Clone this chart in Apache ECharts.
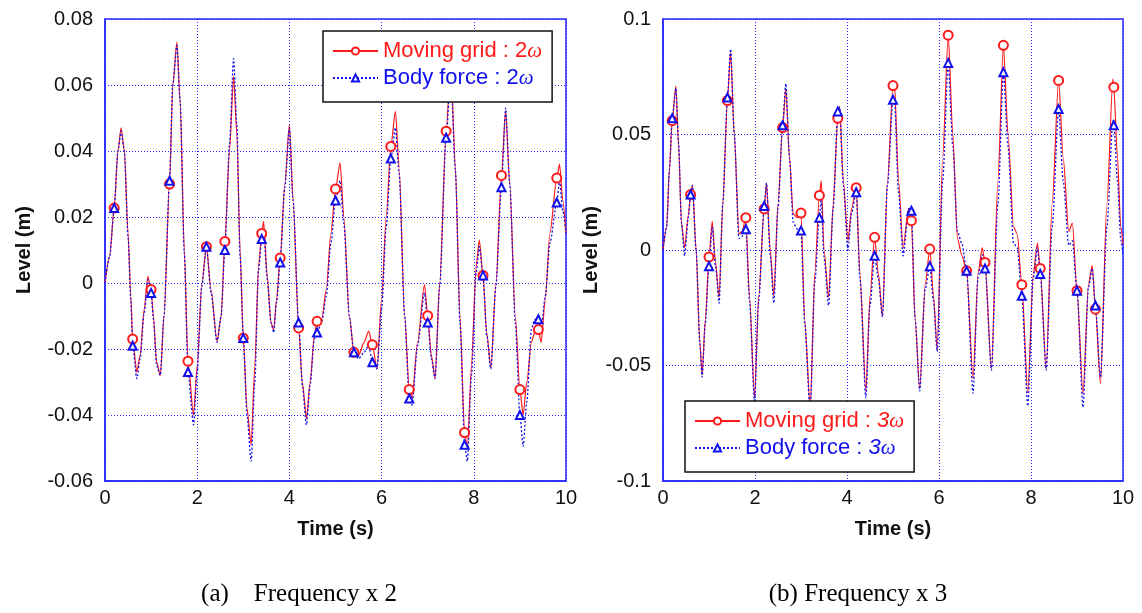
<!DOCTYPE html>
<html>
<head>
<meta charset="utf-8">
<script src="https://cdn.jsdelivr.net/npm/echarts@6/dist/echarts.min.js"></script>
<style>html,body{margin:0;padding:0;background:#fff}#c{width:1142px;height:613px}</style>
</head>
<body>
<div id="c"></div>
<script>
// ---- Left panel (Frequency x 2) ----
const timeA = [0,0.1,0.2,0.28,0.35,0.42,0.5,0.56,0.6,0.69,0.76,0.85,0.93,1.0,1.05,1.12,1.2,1.28,1.4,1.47,1.56,1.63,1.72,1.8,1.92,2.0,2.1,2.2,2.3,2.43,2.52,2.6,2.7,2.79,2.86,2.93,3.0,3.08,3.17,3.25,3.33,3.4,3.44,3.52,3.6,3.66,3.72,3.8,3.9,4.0,4.08,4.2,4.28,4.37,4.45,4.54,4.6,4.7,4.8,4.9,5.0,5.1,5.18,5.3,5.4,5.5,5.62,5.72,5.8,5.9,6.0,6.1,6.2,6.3,6.38,6.5,6.6,6.66,6.78,6.93,7.0,7.08,7.16,7.26,7.4,7.5,7.6,7.7,7.8,7.86,7.95,8.05,8.12,8.2,8.28,8.37,8.48,8.6,8.69,8.78,8.9,9.0,9.07,9.15,9.25,9.32,9.4,9.46,9.55,9.65,9.8,9.86,9.93,10];
const movingA = [0,0.008,0.0227,0.040,0.047,0.040,0.015,-0.004,-0.017,-0.027,-0.022,-0.008,0.002,-0.002,-0.010,-0.024,-0.028,-0.010,0.030,0.060,0.073,0.055,0.010,-0.0237,-0.040,-0.025,0.000,0.011,-0.002,-0.0177,-0.010,0.0126,0.040,0.0626,0.045,0.010,-0.0167,-0.038,-0.049,-0.025,0.005,0.015,0.0187,0.002,-0.012,-0.0141,-0.005,0.0076,0.030,0.048,0.025,-0.0136,-0.030,-0.041,-0.030,-0.016,-0.0116,-0.011,-0.002,0.015,0.0285,0.0364,0.020,-0.010,-0.021,-0.022,-0.018,-0.0146,-0.0187,-0.026,-0.005,0.020,0.0414,0.052,0.035,-0.010,-0.0323,-0.035,-0.018,-0.0005,-0.0099,-0.022,-0.0288,0.000,0.046,0.066,0.035,-0.010,-0.0453,-0.0505,-0.025,0.005,0.013,0.0023,-0.015,-0.0258,0.000,0.0326,0.052,0.030,-0.010,-0.0323,-0.040,-0.030,-0.018,-0.015,-0.0141,-0.018,-0.005,0.015,0.0318,0.036,0.025,0.015];
const bodyA = [0,0.008,0.0227,0.040,0.046,0.040,0.014,-0.005,-0.019,-0.029,-0.023,-0.009,0.001,-0.003,-0.011,-0.025,-0.028,-0.010,0.031,0.060,0.072,0.055,0.009,-0.027,-0.043,-0.027,-0.001,0.011,-0.003,-0.018,-0.010,0.010,0.042,0.068,0.048,0.008,-0.0167,-0.040,-0.054,-0.030,0.004,0.0133,0.016,0.001,-0.012,-0.015,-0.006,0.0062,0.029,0.047,0.025,-0.012,-0.031,-0.043,-0.031,-0.017,-0.015,-0.012,-0.004,0.012,0.025,0.031,0.018,-0.010,-0.021,-0.023,-0.021,-0.019,-0.024,-0.026,-0.008,0.017,0.0377,0.047,0.033,-0.010,-0.035,-0.037,-0.019,-0.003,-0.012,-0.023,-0.029,-0.001,0.044,0.064,0.034,-0.012,-0.049,-0.054,-0.028,0.003,0.011,0.0023,-0.016,-0.026,-0.001,0.029,0.053,0.030,-0.012,-0.040,-0.0495,-0.036,-0.014,-0.011,-0.011,-0.014,-0.004,0.012,0.0244,0.031,0.022,0.015];

// ---- Right panel (Frequency x 3) ----
const timeB = [0,0.08,0.14,0.2,0.28,0.34,0.4,0.47,0.55,0.6,0.64,0.72,0.8,0.85,0.92,1.0,1.07,1.14,1.22,1.3,1.4,1.47,1.55,1.65,1.72,1.8,1.88,1.99,2.08,2.2,2.25,2.33,2.41,2.5,2.6,2.67,2.75,2.83,2.92,3.0,3.08,3.2,3.3,3.4,3.44,3.5,3.6,3.7,3.8,3.84,3.92,4.02,4.1,4.2,4.28,4.41,4.5,4.6,4.68,4.77,4.88,5.0,5.03,5.12,5.22,5.34,5.4,5.48,5.58,5.7,5.8,5.88,5.96,6.08,6.2,6.3,6.4,6.5,6.6,6.74,6.85,6.94,7.0,7.14,7.28,7.4,7.5,7.62,7.7,7.8,7.93,8.05,8.14,8.2,8.33,8.46,8.6,8.7,8.82,8.9,9.0,9.13,9.25,9.33,9.4,9.51,9.65,9.78,9.8,9.88,9.95,10];
const movingB = [0,0.010,0.035,0.056,0.071,0.045,0.012,0.001,0.015,0.024,0.028,0.000,-0.040,-0.054,-0.030,-0.003,0.0124,-0.005,-0.0205,0.020,0.0647,0.0857,0.050,0.007,0.008,0.014,-0.020,-0.064,-0.020,0.0178,0.029,0.000,-0.0198,0.020,0.053,0.0698,0.040,0.0156,0.014,0.016,-0.030,-0.068,-0.010,0.0236,0.030,0.000,-0.0205,0.020,0.057,0.062,0.030,0.004,0.018,0.027,-0.010,-0.061,-0.020,0.0055,-0.010,-0.0285,0.030,0.0712,0.073,0.030,0.001,0.018,0.0127,-0.030,-0.060,-0.015,0.0004,-0.020,-0.043,0.040,0.093,0.050,0.005,-0.0025,-0.009,-0.056,-0.010,0.001,-0.0054,-0.0516,0.030,0.0886,0.050,0.010,0.007,-0.015,-0.062,-0.010,0.003,-0.008,-0.0516,0.020,0.0734,0.040,0.008,0.0116,-0.0176,-0.0624,-0.015,-0.0068,-0.0256,-0.058,0.020,0.074,0.0705,0.040,0.010,0.0026];
const bodyB = [0,0.010,0.035,0.057,0.070,0.046,0.012,-0.0025,0.014,0.024,0.028,0.000,-0.040,-0.055,-0.032,-0.007,0.010,-0.007,-0.023,0.020,0.066,0.087,0.050,0.005,0.006,0.009,-0.022,-0.066,-0.022,0.019,0.029,-0.002,-0.023,0.018,0.054,0.072,0.040,0.012,0.009,0.0084,-0.032,-0.070,-0.014,0.014,0.022,-0.003,-0.024,0.018,0.060,0.062,0.028,0.000,0.016,0.025,-0.012,-0.064,-0.024,-0.0025,-0.012,-0.029,0.028,0.065,0.066,0.025,-0.0025,0.018,0.017,-0.030,-0.061,-0.017,-0.007,-0.022,-0.044,0.030,0.081,0.045,0.008,0.0026,-0.009,-0.062,-0.012,-0.002,-0.008,-0.052,0.020,0.077,0.045,0.003,0.001,-0.0198,-0.0675,-0.012,0.001,-0.0104,-0.052,0.010,0.061,0.030,0.002,0.004,-0.0176,-0.068,-0.016,-0.008,-0.024,-0.055,0.010,0.056,0.054,0.030,0.005,-0.0025];

const xTicks = [0, 10, 2];            // min, max, interval
const yTicksA = [-0.06, 0.08, 0.02];
const yTicksB = [-0.1, 0.1, 0.05];
const namesA = ['Moving grid : 2ω', 'Body force : 2ω'];
const namesB = ['Moving grid : 3ω', 'Body force : 3ω'];
const captions = ['(a)    Frequency x 2', '(b) Frequency x 3'];

const markerStart = 0.2, markerStep = 0.4;
function isMarker(t) {
  const k = (t - markerStart) / markerStep;
  return t >= markerStart - 1e-9 && Math.abs(k - Math.round(k)) < 1e-6;
}
function build(times, vals) {
  return times.map((t, i) => isMarker(t) ? { value: [t, vals[i]] } : { value: [t, vals[i]], symbol: 'none' });
}

const BLUE = '#2828ff';
const SANS = '"Liberation Sans", Arial, sans-serif';
const RED = '#ff1a1a';
const LBLUE = '#1010ee';

function xAxisOpt(gi) {
  return {
    type: 'value', gridIndex: gi, min: xTicks[0], max: xTicks[1], interval: xTicks[2],
    name: 'Time (s)', nameLocation: 'middle', nameGap: 38,
    nameTextStyle: { color: '#111', fontSize: 20, fontWeight: 'bold', fontFamily: SANS },
    axisLine: { onZero: false, lineStyle: { color: BLUE, width: 1.5 } },
    axisTick: { show: false },
    axisLabel: { color: '#111', fontSize: 20, fontFamily: SANS, margin: 7 },
    splitLine: { show: true, lineStyle: { color: BLUE, type: [1, 2], width: 1 } }
  };
}
function yAxisOpt(gi, ticks, gap) {
  return {
    type: 'value', gridIndex: gi, min: ticks[0], max: ticks[1], interval: ticks[2],
    name: 'Level (m)', nameLocation: 'middle', nameRotate: 90, nameGap: gap,
    nameTextStyle: { color: '#111', fontSize: 20, fontWeight: 'bold', fontFamily: SANS },
    axisLine: { onZero: false, lineStyle: { color: BLUE, width: 1.5 } },
    axisTick: { show: false },
    axisLabel: { color: '#111', fontSize: 20, fontFamily: SANS, margin: 12,
      formatter: v => String(Number(v.toFixed(3))) },
    splitLine: { show: true, lineStyle: { color: BLUE, type: [1, 2], width: 1 } }
  };
}
function legendOpt(names, left, top, italicNum) {
  return {
    orient: 'vertical', left: left, top: top,
    backgroundColor: '#fff', borderColor: '#111', borderWidth: 1.5,
    padding: [9, 10, 13, 9], itemGap: 5, itemWidth: 45, itemHeight: 9,
    data: [
      { name: names[0], textStyle: { color: RED } },
      { name: names[1], textStyle: { color: LBLUE } }
    ],
    textStyle: { fontSize: 22, fontFamily: SANS,
      rich: { n: { fontSize: 22, fontFamily: SANS, fontStyle: italicNum ? 'italic' : 'normal' },
              w: { fontSize: 21, fontFamily: '"Liberation Serif", serif', fontStyle: 'italic' } } },
    formatter: name => {
      const base = name.slice(0, name.length - 2);
      const num = name.charAt(name.length - 2);
      return base + '{n|' + num + '}{w|ω}';
    }
  };
}
function lineSeries(name, xi, times, vals, color, dashed) {
  return {
    type: 'line', name: name, xAxisIndex: xi, yAxisIndex: xi,
    data: build(times, vals),
    smooth: 0.25, smoothMonotone: 'x',
    symbol: dashed ? 'emptyTriangle' : 'emptyCircle', symbolSize: dashed ? 8 : 9,
    showSymbol: true,
    itemStyle: { color: color, borderColor: color, borderWidth: 1.2 },
    lineStyle: { color: color, width: dashed ? 1.3 : 1.2, type: dashed ? [2, 2] : 'solid' },
    emphasis: { disabled: true }, animation: false
  };
}

const chart = echarts.init(document.getElementById('c'), null, { renderer: 'canvas' });
chart.setOption({
  backgroundColor: '#fff',
  animation: false,
  grid: [
    { left: 105, top: 19, width: 461, height: 462, show: true, borderColor: BLUE, borderWidth: 1.5, backgroundColor: '#fff' },
    { left: 663, top: 19, width: 460, height: 462, show: true, borderColor: BLUE, borderWidth: 1.5, backgroundColor: '#fff' }
  ],
  xAxis: [xAxisOpt(0), xAxisOpt(1)],
  yAxis: [yAxisOpt(0, yTicksA, 71), yAxisOpt(1, yTicksB, 61)],
  legend: [legendOpt(namesA, 323, 31, false), legendOpt(namesB, 685, 401, true)],
  series: [
    lineSeries(namesA[0], 0, timeA, movingA, RED, false),
    lineSeries(namesA[1], 0, timeA, bodyA, LBLUE, true),
    lineSeries(namesB[0], 1, timeB, movingB, RED, false),
    lineSeries(namesB[1], 1, timeB, bodyB, LBLUE, true)
  ],
  graphic: [
    { type: 'text', x: 299, y: 594, style: { text: captions[0], fill: '#000', font: '25px "Liberation Serif", "Times New Roman", serif', textAlign: 'center', textVerticalAlign: 'middle' } },
    { type: 'text', x: 858, y: 594, style: { text: captions[1], fill: '#000', font: '25px "Liberation Serif", "Times New Roman", serif', textAlign: 'center', textVerticalAlign: 'middle' } }
  ]
});
</script>
</body>
</html>
